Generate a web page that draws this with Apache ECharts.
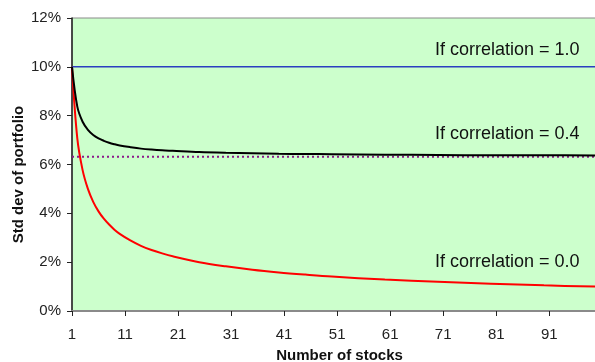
<!DOCTYPE html>
<html>
<head>
<meta charset="utf-8">
<script src="https://cdn.jsdelivr.net/npm/echarts@6/dist/echarts.min.js"></script>
<style>
html,body{margin:0;padding:0;background:#fff;}
#chart{width:595px;height:362px;}
</style>
</head>
<body>
<div id="chart"></div>
<script>
// Data
var nStocks   = [1, 2, 3, 4, 5, 6, 7, 8, 9, 10, 12, 14, 16, 18, 20, 25, 30, 35, 40, 45, 50, 60, 70, 80, 90, 100];
var sdCorr00  = [10, 7.07, 5.77, 5.00, 4.47, 4.08, 3.78, 3.54, 3.33, 3.16, 2.89, 2.67, 2.50, 2.36, 2.24, 2.00, 1.83, 1.69, 1.58, 1.49, 1.41, 1.29, 1.20, 1.12, 1.05, 1.00];
var sdCorr04  = [10, 8.37, 7.75, 7.42, 7.21, 7.07, 6.97, 6.89, 6.83, 6.78, 6.71, 6.65, 6.61, 6.58, 6.56, 6.51, 6.48, 6.46, 6.44, 6.43, 6.42, 6.40, 6.39, 6.38, 6.38, 6.37];
var flatX     = [1, 100];
var sdCorr10  = [10, 10];
var asymptote = [6.32, 6.32];
var yTicks    = ['0%', '2%', '4%', '6%', '8%', '10%', '12%'];
var labels    = ['If correlation = 1.0', 'If correlation = 0.4', 'If correlation = 0.0'];

function pairs(xs, ys) { return xs.map(function (x, i) { return [x, ys[i]]; }); }

var chart = echarts.init(document.getElementById('chart'), null, {renderer: 'canvas'});
var font = '"Liberation Sans", Arial, sans-serif';
chart.setOption({
  animation: false,
  textStyle: {fontFamily: font},
  grid: {
    left: 72, right: -2, top: 18, bottom: 51,
    containLabel: false, outerBoundsMode: 'none',
    show: true, backgroundColor: '#ccffcc', borderColor: '#8a8a8a', borderWidth: 1
  },
  xAxis: {
    type: 'value', min: 1, max: 100, interval: 10,
    name: 'Number of stocks', nameLocation: 'middle', nameGap: 37,
    nameTextStyle: {fontFamily: font, fontWeight: 'bold', fontSize: 15, color: '#111', padding: [0, 0, 0, 10]},
    axisLine: {lineStyle: {color: '#8a8a8a', width: 2}},
    axisTick: {length: 5, lineStyle: {color: '#222'}},
    axisLabel: {fontSize: 15, color: '#222', margin: 16, showMaxLabel: false},
    splitLine: {show: false}
  },
  yAxis: {
    type: 'value', min: 0, max: 12, interval: 2,
    name: 'Std dev of portfolio', nameLocation: 'middle', nameGap: 46, nameMoveOverlap: false,
    nameTextStyle: {fontFamily: font, fontWeight: 'bold', fontSize: 15, color: '#111', padding: [0, 20, 0, 0]},
    axisLine: {show: true, lineStyle: {color: '#222', width: 1.5}},
    axisTick: {show: true, length: 5, lineStyle: {color: '#222'}},
    axisLabel: {fontSize: 15, color: '#222', margin: 11, formatter: function (v) { return yTicks[v / 2]; }},
    splitLine: {show: false}
  },
  series: [
    {
      type: 'line', data: pairs(flatX, asymptote), symbol: 'none', silent: true,
      lineStyle: {color: '#8b1a8b', width: 2, type: [2, 3]}
    },
    {
      type: 'line', data: pairs(flatX, sdCorr10), symbol: 'none', silent: true,
      lineStyle: {color: '#2a3fc0', width: 1.5}
    },
    {
      type: 'line', data: pairs(nStocks, sdCorr00), symbol: 'none', smooth: 0.35, silent: true,
      lineStyle: {color: '#ff0000', width: 2}
    },
    {
      type: 'line', data: pairs(nStocks, sdCorr04), symbol: 'none', smooth: 0.35, silent: true,
      lineStyle: {color: '#000000', width: 2}
    }
  ],
  graphic: [
    {type: 'text', left: 435, top: 41, style: {text: labels[0], font: '18px "Liberation Sans", Arial, sans-serif', fill: '#111'}},
    {type: 'text', left: 435, top: 125, style: {text: labels[1], font: '18px "Liberation Sans", Arial, sans-serif', fill: '#111'}},
    {type: 'text', left: 435, top: 253, style: {text: labels[2], font: '18px "Liberation Sans", Arial, sans-serif', fill: '#111'}}
  ]
});
</script>
</body>
</html>
